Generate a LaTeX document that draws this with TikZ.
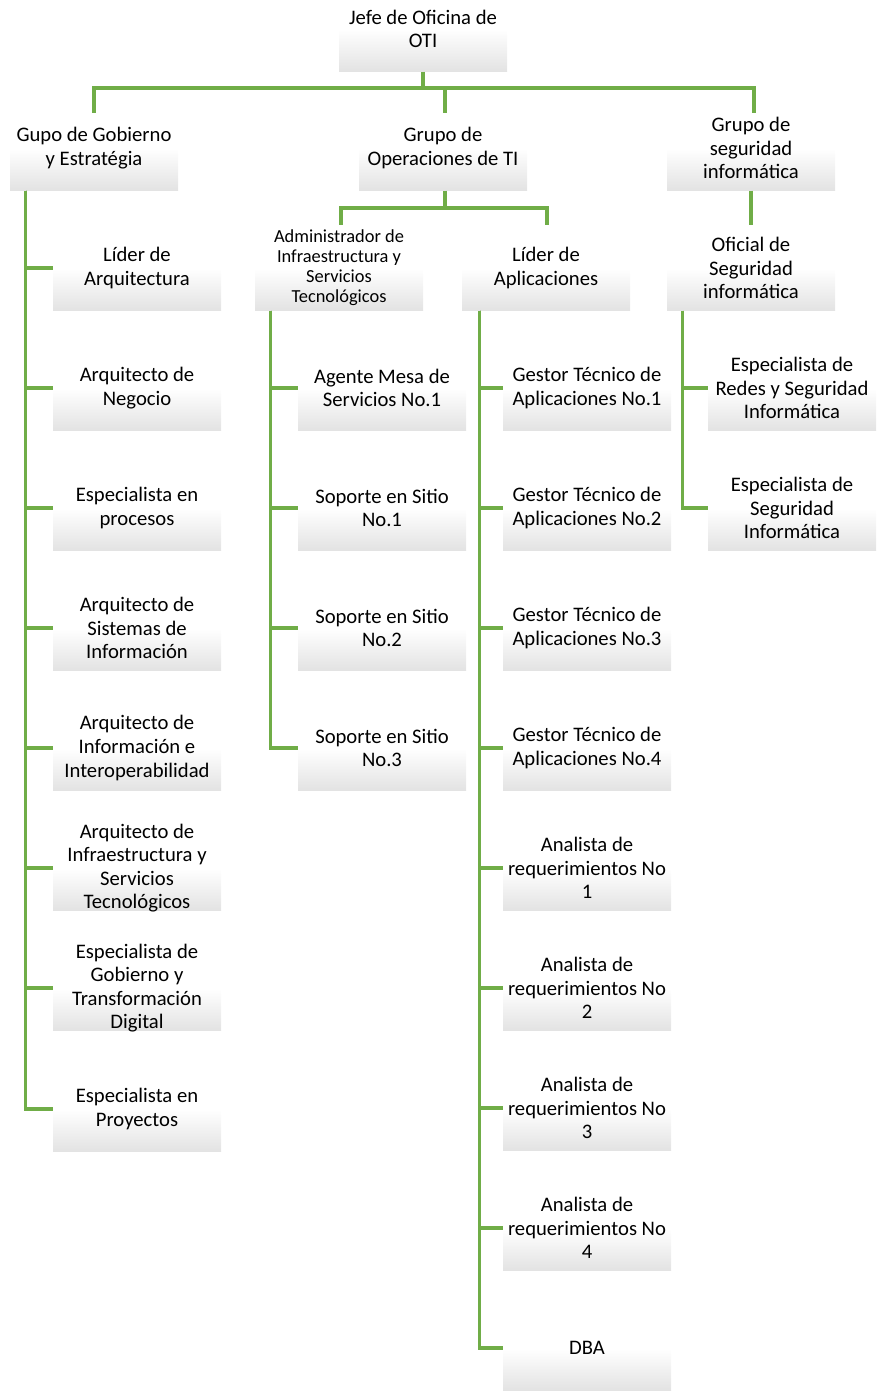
\documentclass[tikz,border=0pt]{standalone}
\usepackage{fontspec}
\setmainfont{Carlito}
\definecolor{lineg}{RGB}{112,173,71}
\tikzset{
  obox/.style={rectangle, minimum width=126pt, minimum height=31.5pt, inner sep=0pt, draw=none, top color=white, bottom color=black!11},
  otxt/.style={align=center, inner sep=0pt, font=\fontsize{15.5}{17.7}\selectfont},
  stxt/.style={align=center, inner sep=0pt, font=\fontsize{13.8}{15}\selectfont},
  conn/.style={draw=lineg, line width=2.3pt},
}
\newcommand\orgbox[5][otxt]{\node[obox,anchor=north] (#2) at (#3,#4) {};
  \node[#1] (#2t) at (#2.north) {#5};}
\begin{document}
\begin{tikzpicture}[x=0.75pt,y=-0.75pt]
\useasboundingbox (0,0) rectangle (877,1391);
% top
\orgbox{jefe}{423}{29}{Jefe de Oficina de\\OTI}
% level 2
\orgbox{gob}{94}{148}{Gupo de Gobierno\\y Estratégia}
\orgbox{ops}{443}{148}{Grupo de\\Operaciones de TI}
\orgbox{seg}{751}{148}{Grupo de\\seguridad\\informática}
% level 3
\orgbox[stxt]{adm}{339}{268}{Administrador de\\Infraestructura y\\Servicios\\Tecnológicos}
\orgbox{lapl}{546}{268}{Líder de\\Aplicaciones}
\orgbox{ofi}{751}{268}{Oficial de\\Seguridad\\informática}
% left column
\orgbox{g1}{137}{268}{Líder de\\Arquitectura}
\orgbox{g2}{137}{388}{Arquitecto de\\Negocio}
\orgbox{g3}{137}{508}{Especialista en\\procesos}
\orgbox{g4}{137}{628}{Arquitecto de\\Sistemas de\\Información}
\orgbox{g5}{137}{748}{Arquitecto de\\Información e\\Interoperabilidad}
\orgbox{g6}{137}{868}{Arquitecto de\\Infraestructura y\\Servicios\\Tecnológicos}
\orgbox{g7}{137}{988}{Especialista de\\Gobierno y\\Transformación\\Digital}
\orgbox{g8}{137}{1109}{Especialista en\\Proyectos}
% admin column
\orgbox{a1}{382}{388}{Agente Mesa de\\Servicios No.1}
\orgbox{a2}{382}{508}{Soporte en Sitio\\No.1}
\orgbox{a3}{382}{628}{Soporte en Sitio\\No.2}
\orgbox{a4}{382}{748}{Soporte en Sitio\\No.3}
% aplicaciones column
\orgbox{p1}{587}{388}{Gestor Técnico de\\Aplicaciones No.1}
\orgbox{p2}{587}{508}{Gestor Técnico de\\Aplicaciones No.2}
\orgbox{p3}{587}{628}{Gestor Técnico de\\Aplicaciones No.3}
\orgbox{p4}{587}{748}{Gestor Técnico de\\Aplicaciones No.4}
\orgbox{p5}{587}{868}{Analista de\\requerimientos No\\1}
\orgbox{p6}{587}{988}{Analista de\\requerimientos No\\2}
\orgbox{p7}{587}{1108}{Analista de\\requerimientos No\\3}
\orgbox{p8}{587}{1228}{Analista de\\requerimientos No\\4}
\orgbox{p9}{587}{1348}{DBA}
% seguridad column
\orgbox{s1}{792}{388}{Especialista de\\Redes y Seguridad\\Informática}
\orgbox{s2}{792}{508}{Especialista de\\Seguridad\\Informática}
% free ends
\coordinate (jmid) at (423,88);
\coordinate (gobend) at (94,113);
\coordinate (opsend) at (445,113);
\coordinate (segend) at (754,113);
\coordinate (omid) at (445,208);
\coordinate (admend) at (341,225);
\coordinate (laplend) at (547,225);
\coordinate (ofiend) at (751,225);
% top connectors
\draw[conn] (jefe.south) -- (jmid);
\draw[conn] (jmid) -| (gobend);
\draw[conn] (jmid) -| (segend);
\draw[conn] (jmid) -| (opsend);
\draw[conn] (ops.south -| omid) -- (omid);
\draw[conn] (omid) -| (admend);
\draw[conn] (omid) -| (laplend);
\draw[conn] (seg.south) -- (ofiend);
% children connectors
\foreach \c in {g1,g2,g3,g4,g5,g6,g7,g8}
  \draw[conn] ([xshift=12pt]gob.south west) |- (\c.north west);
\foreach \c in {a1,a2,a3,a4}
  \draw[conn] ([xshift=12pt]adm.south west) |- (\c.north west);
\foreach \c in {p1,p2,p3,p4,p5,p6,p7,p8,p9}
  \draw[conn] ([xshift=13.5pt]lapl.south west) |- (\c.north west);
\foreach \c in {s1,s2}
  \draw[conn] ([xshift=12pt]ofi.south west) |- (\c.north west);
\end{tikzpicture}
\end{document}
